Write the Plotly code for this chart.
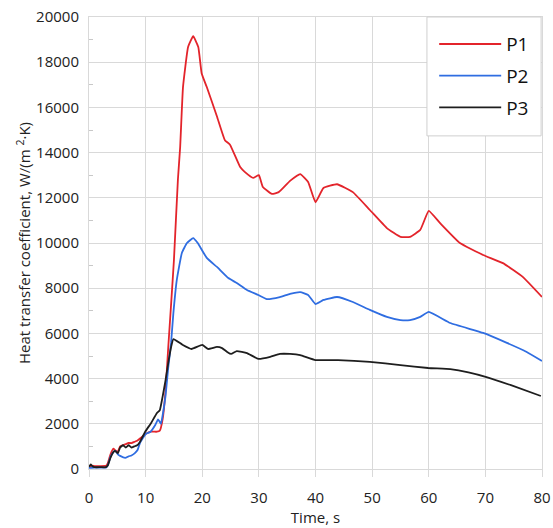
import plotly.graph_objects as go

# ---- data ----
t1 = [0, 0.5, 1, 2, 3, 3.3, 3.8, 4.3, 4.7, 5.1, 5.5, 6, 6.5, 7, 7.5, 8, 8.5, 9, 9.5, 10, 11, 12, 12.5, 13, 13.5, 14, 14.5,
      15, 15.7, 16.1, 16.6, 17.5, 18.4, 19.3, 19.9, 20.8, 22.6, 24.0, 24.9, 26.7, 27.5, 29.0, 30.0, 30.7, 32.3, 33.5,
      35.5, 37.3, 38.7, 40.0, 41.4, 43.8, 46.6, 49.6, 52.6, 55.0, 56.7, 58.5, 60.0, 62.0, 65.5, 69.6, 73.1, 76.6, 80.0]
p1 = [100, 150, 130, 130, 140, 250, 650, 900, 820, 780, 1000, 1050, 1100, 1150, 1150, 1200, 1250, 1350, 1450, 1550, 1650, 1650, 1700, 2200, 3400, 5400, 7300,
      9250, 12800, 14250, 16900, 18670, 19150, 18670, 17500, 16900, 15600, 14550, 14350, 13360, 13150, 12880, 13000, 12480, 12170, 12250,
      12750, 13050, 12700, 11800, 12430, 12600, 12250, 11460, 10660, 10270, 10270, 10580, 11420, 10880, 10000, 9470, 9110, 8500, 7610]

t2 = [0, 1, 2, 3, 3.3, 3.8, 4.3, 4.7, 5.1, 5.5, 6.4, 7, 7.5, 8.1, 8.6, 9, 10, 10.8, 11.7, 12.2, 12.7, 13.5, 14, 14.5, 14.9, 15.5,
      16.4, 17.3, 18.4, 19.2, 20.8, 22.6, 24.6, 26.1, 27.9, 29.9, 31.4, 33.7, 35.5, 37.3, 38.7, 40.0, 41.4, 43.8, 46.6, 49.6,
      52.6, 55.0, 56.7, 58.5, 60.0, 63.8, 69.6, 73.8, 77.3, 80.0]
p2 = [50, 60, 60, 60, 150, 550, 750, 800, 650, 580, 490, 560, 600, 700, 850, 1150, 1550, 1640, 1950, 2200, 2000, 3200, 4500, 5600, 6900, 8360,
      9560, 10000, 10220, 10000, 9340, 8940, 8450, 8230, 7920, 7700, 7520, 7610, 7750, 7830, 7700, 7300, 7480, 7610, 7390, 7040,
      6730, 6590, 6590, 6730, 6950, 6460, 6020, 5580, 5180, 4780]

t3 = [0, 0.3, 0.6, 1, 2, 3, 3.3, 3.8, 4.3, 4.6, 5.1, 5.5, 6, 6.5, 7, 7.5, 8, 8.5, 9, 9.9, 11, 12, 12.5, 13, 13.5, 14, 14.5,
      14.9, 16.5, 18.1, 20.0, 21.0, 22.6, 23.5, 24.4, 25.1, 26.1, 27.9, 29.9, 32.0, 33.7, 35.5, 37.3, 40.0, 44.0, 49.6,
      55.0, 59.9, 63.8, 67.0, 70.2, 74.4, 79.8]
p3 = [100, 200, 120, 80, 80, 80, 150, 500, 750, 800, 700, 950, 1050, 950, 1050, 950, 1000, 1050, 1200, 1640, 2050, 2480, 2600, 3200, 3900, 4700, 5400,
      5750, 5500, 5310, 5490, 5310, 5400, 5350, 5180, 5090, 5220, 5130, 4870, 4960, 5090, 5090, 5040, 4820, 4820, 4740,
      4600, 4470, 4420, 4280, 4070, 3720, 3230]

series = [("P1", t1, p1, "#e3242b"), ("P2", t2, p2, "#2f6de1"), ("P3", t3, p3, "#1e1e1e")]

fig = go.Figure()
for name, x, y, c in series:
    fig.add_trace(go.Scatter(x=x, y=y, name=name, mode="lines", legendgroup=name,
                             line=dict(color=c, width=1.8, shape="spline", smoothing=0.35)))

grid = "#d9d9d9"
font = "Open Sans, Liberation Sans, sans-serif"

# legend frame (drawn as a shape so its size matches the reference)
fig.add_shape(type="rect", xref="paper", yref="paper",
              x0=0.746, x1=0.998, y0=0.737, y1=1.0,
              line=dict(color="#cfcfcf", width=1), fillcolor="white", layer="above")

fig.update_layout(
    width=553, height=528,
    margin=dict(l=89, r=11, t=17, b=59, autoexpand=False),
    paper_bgcolor="white", plot_bgcolor="white",
    font=dict(family=font, size=14, color="#222"),
    showlegend=True,
    legend=dict(x=0.762, y=0.982, xanchor="left", yanchor="top",
                bgcolor="rgba(0,0,0,0)", borderwidth=0,
                font=dict(size=19, color="#111"), itemwidth=62,
                tracegroupgap=4),
    xaxis=dict(range=[0, 80], dtick=10, showgrid=True, gridcolor=grid, gridwidth=1,
               showline=True, linecolor=grid, mirror=True, zeroline=False,
               ticks="outside", ticklen=7, tickcolor=grid, automargin=False,
               tickfont=dict(size=15), ticklabelstandoff=8,
               title=dict(text="Time, s", font=dict(size=15), standoff=6)),
    yaxis=dict(range=[0, 20000], dtick=2000, showgrid=True, gridcolor=grid, gridwidth=1,
               showline=True, linecolor=grid, mirror=True, zeroline=False,
               ticks="", tickfont=dict(size=15), ticklabelstandoff=6,
               tickformat="d", automargin=False,
               minor=dict(dtick=1000, ticks="inside", ticklen=4, tickcolor="#c8c8c8", showgrid=False),
               title=dict(text="Heat transfer coefficient, W/(m <sup>2</sup>·K)", font=dict(size=15), standoff=1)),
)

fig.write_html("out.html")
